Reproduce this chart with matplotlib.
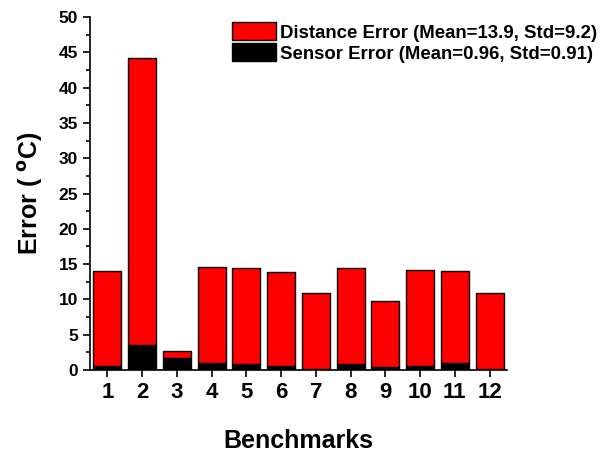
import matplotlib.pyplot as plt
import numpy as np

plt.rcParams['font.family'] = ['Liberation Sans', 'DejaVu Sans']
plt.rcParams['font.weight'] = 'bold'

# Data
benchmarks = ['1', '2', '3', '4', '5', '6', '7', '8', '9', '10', '11', '12']
sensor_error = [0.57, 3.5, 1.65, 1.03, 0.9, 0.6, 0.1, 0.9, 0.4, 0.6, 0.95, 0.1]
distance_error = [13.5, 40.7, 1.05, 13.6, 13.6, 13.3, 10.8, 13.6, 9.4, 13.6, 13.05, 10.8]

x = np.arange(1, len(benchmarks) + 1)

fig = plt.figure(figsize=(6.07, 4.55), dpi=100)
ax = fig.add_axes([90 / 607, 1 - 370 / 455, 417 / 607, 353 / 455])

ax.bar(x, sensor_error, width=0.8, color='black', edgecolor='black', linewidth=1,
       label='Sensor Error (Mean=0.96, Std=0.91)')
ax.bar(x, distance_error, width=0.8, bottom=sensor_error, color='#ff0000',
       edgecolor='black', linewidth=1, label='Distance Error (Mean=13.9, Std=9.2)')

ax.set_xlim(0.5, 12.5)
ax.set_ylim(0, 50)
ax.set_xticks(x)
ax.set_xticklabels(benchmarks, fontsize=16, fontweight='bold')
ax.set_yticks(np.arange(0, 51, 5))
ax.set_yticks(np.arange(0, 50, 2.5), minor=True)
ax.tick_params(axis='y', labelsize=12.5, width=1.2, length=5)
ax.tick_params(axis='y', which='minor', width=1.2, length=3)
ax.tick_params(axis='x', width=1.2, length=5, pad=4)
for lbl in ax.get_yticklabels():
    lbl.set_fontweight('bold')

for s in ['top', 'right']:
    ax.spines[s].set_visible(False)
for s in ['left', 'bottom']:
    ax.spines[s].set_linewidth(1.2)

ax.set_xlabel('Benchmarks', fontsize=18, fontweight='bold', labelpad=18)
ax.set_ylabel('Error ( $\\mathbf{^o}$C)', fontsize=18, fontweight='bold', labelpad=10)

handles, labels = ax.get_legend_handles_labels()
ax.legend(handles[::-1], labels[::-1], loc='upper right', bbox_to_anchor=(1.215, 0.985),
          frameon=False, fontsize=13.4, handlelength=2.35, handleheight=1.1,
          handletextpad=0.2, labelspacing=0.1, borderaxespad=0, borderpad=0)

fig.savefig('out.png', dpi=100)
